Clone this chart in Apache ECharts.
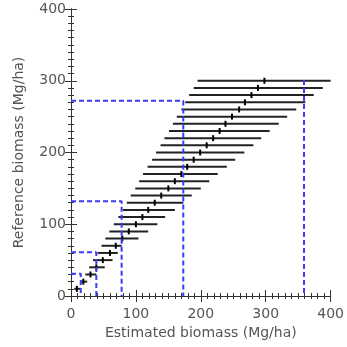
<!DOCTYPE html>
<html>
<head>
<meta charset="utf-8">
<script src="https://cdn.jsdelivr.net/npm/echarts@6/dist/echarts.min.js"></script>
<style>html,body{margin:0;padding:0;background:#fff;}#c{width:347px;height:347px;}</style>
</head>
<body>
<div id="c"></div>
<script>
// Reference biomass classes (y) and estimated biomass range / mean (x)
const refValues = [10,20,30,40,50,60,70,80,90,100,110,120,130,140,150,160,170,180,190,200,210,220,230,240,250,260,270,280,290,300];
const estLow    = [5,14,22,28,34,41,47,53,59,66,73,80,86,92,99,105,111,118,125,131,138,144,151,157,163,170,176,182,189,195];
const estMean   = [9,19,30,39,49,60,69,79,89,100,110,119,129,139,150,160,170,179,189,199,209,219,229,238,248,259,268,278,288,298];
const estHigh   = [15,25,39,52,64,72,78,104,119,133,145,160,173,186,200,213,226,240,253,267,281,293,306,320,333,347,361,374,388,400];
// Threshold corners (estimated, reference)
const cutEst = [15,39,78,173,359];
const cutRef = [31,61,132,272,301];
const tickValues = [0,100,200,300,400];

const barData = refValues.map((r,i)=>[estLow[i], estHigh[i], r, estMean[i]]);

const blueSeries = cutEst.map((e,i)=>{
  const pts = (i < cutEst.length-1) ? [[0,cutRef[i]],[e,cutRef[i]],[e,0]] : [[e,cutRef[i]],[e,0]];
  return {type:'line', data:pts, symbol:'none', z:5, silent:true,
    lineStyle:{color:'#3a3aff', width:2, type:[5,3]}};
});

const font = 'DejaVu Sans';
const axisCommon = {
  min:0, max:400, interval:100,
  axisLine:{lineStyle:{color:'#333', width:1}},
  axisTick:{inside:true, length:6, lineStyle:{color:'#333'}},
  minorTick:{show:true, splitNumber:10, length:3, lineStyle:{color:'#333'}},
  splitLine:{show:false}
};

const chart = echarts.init(document.getElementById('c'), null, {renderer:'canvas'});
chart.setOption({
  animation:false,
  backgroundColor:'#fff',
  grid:{left:71, right:13, top:9, bottom:51},
  xAxis:[
    Object.assign({type:'value', position:'bottom', name:'Estimated biomass (Mg/ha)', nameLocation:'middle', nameGap:30,
      nameTextStyle:{fontFamily:font, fontSize:14, color:'#555'},
      axisLabel:{fontFamily:font, fontSize:14, color:'#555', margin:11,
        formatter:(v)=> tickValues.includes(v) ? String(v) : ''}}, axisCommon),
    Object.assign({type:'value', position:'top', axisLabel:{show:false}}, axisCommon)
  ],
  yAxis:[
    Object.assign({type:'value', position:'left', name:'Reference biomass (Mg/ha)', nameLocation:'middle', nameGap:45,
      nameTextStyle:{fontFamily:font, fontSize:14, color:'#555'},
      axisLabel:{fontFamily:font, fontSize:14, color:'#555', margin:5,
        formatter:(v)=> tickValues.includes(v) ? String(v) : ''}}, axisCommon),
    Object.assign({type:'value', position:'right', axisLabel:{show:false}}, axisCommon)
  ],
  series: blueSeries.concat([{
    type:'custom', z:3, clip:true,
    data: barData,
    renderItem:(params, api)=>{
      const y = api.value(2);
      const a = api.coord([api.value(0), y]);
      const b = api.coord([api.value(1), y]);
      const m = api.coord([api.value(3), y]);
      return {type:'group', children:[
        {type:'line', shape:{x1:a[0], y1:a[1], x2:b[0], y2:b[1]}, style:{stroke:'#222', lineWidth:2}},
        {type:'line', shape:{x1:m[0], y1:m[1]-3, x2:m[0], y2:m[1]+3}, style:{stroke:'#000', lineWidth:2}}
      ]};
    }
  }])
});
</script>
</body>
</html>
